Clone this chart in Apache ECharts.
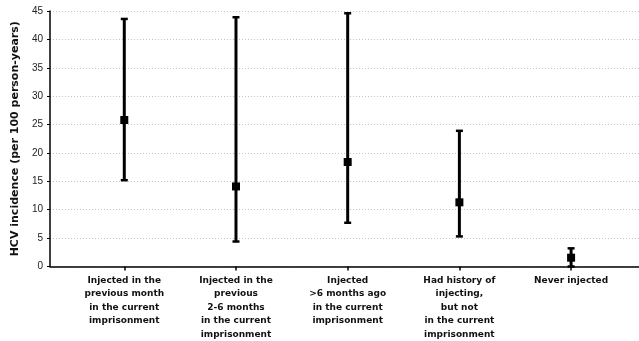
<!DOCTYPE html>
<html>
<head>
<meta charset="utf-8">
<script src="https://cdn.jsdelivr.net/npm/echarts@6/dist/echarts.min.js"></script>
<style>
  html, body { margin: 0; padding: 0; background: #fff; }
  #chart { width: 639px; height: 341px; }
</style>
</head>
<body>
<div id="chart"></div>
<script>
// Exposure groups (x axis)
const categories = [
  'Injected in the\nprevious month\nin the current\nimprisonment',
  'Injected in the\nprevious\n2-6 months\nin the current\nimprisonment',
  'Injected\n>6 months ago\nin the current\nimprisonment',
  'Had history of\ninjecting,\nbut not\nin the current\nimprisonment',
  'Never injected'
];
// HCV incidence per 100 person-years with 95% CI
const incidence = [25.8, 14.1, 18.4, 11.3, 1.55];
const ciLower = [15.2, 4.4, 7.7, 5.3, 0];
const ciUpper = [43.6, 43.9, 44.6, 23.9, 3.2];
// Y axis ticks
const yTicks = [0, 5, 10, 15, 20, 25, 30, 35, 40, 45];

const positions = categories.map((_, i) => i);

const chart = echarts.init(document.getElementById('chart'), null, { renderer: 'canvas' });

chart.setOption({
  animation: false,
  backgroundColor: '#ffffff',
  grid: { left: 50, right: 0, top: 11, bottom: 74.5, containLabel: false },
  xAxis: {
    type: 'value',
    min: -0.665,
    max: 4.608,
    splitLine: { show: false },
    axisLine: { show: true, onZero: false, lineStyle: { color: '#000', width: 1.5 } },
    axisTick: { show: true, customValues: positions, length: 4, lineStyle: { color: '#000', width: 1.5 } },
    axisLabel: {
      customValues: positions,
      formatter: v => categories[Math.round(v)],
      margin: 7,
      color: '#111',
      fontFamily: 'DejaVu Sans',
      fontWeight: 'bold',
      fontSize: 9,
      lineHeight: 13.5,
      verticalAlign: 'top'
    }
  },
  yAxis: {
    type: 'value',
    min: yTicks[0],
    max: yTicks[yTicks.length - 1],
    interval: 5,
    name: 'HCV incidence (per 100 person-years)',
    nameLocation: 'middle',
    nameGap: 26,
    nameTextStyle: {
      color: '#111',
      fontFamily: 'DejaVu Sans',
      fontWeight: 'bold',
      fontSize: 11
    },
    axisLine: { show: true, onZero: false, lineStyle: { color: '#000', width: 1.5 } },
    axisTick: { show: true, length: 3, lineStyle: { color: '#000', width: 1 } },
    axisLabel: {
      margin: 7,
      color: '#222',
      fontFamily: 'Liberation Sans',
      fontSize: 10
    },
    splitLine: {
      show: true,
      lineStyle: { color: '#c4c4c4', type: [1, 2], width: 1 }
    }
  },
  series: [
    {
      type: 'custom',
      name: '95% CI',
      data: positions.map(i => [i, ciLower[i], ciUpper[i]]),
      renderItem: function (params, api) {
        const x = api.value(0);
        const lo = api.coord([x, api.value(1)]);
        const hi = api.coord([x, api.value(2)]);
        const capHalf = 3.5;
        return {
          type: 'group',
          children: [
            { type: 'line', shape: { x1: lo[0], y1: lo[1], x2: hi[0], y2: hi[1] }, style: { stroke: '#000', lineWidth: 3 } },
            { type: 'line', shape: { x1: hi[0] - capHalf, y1: hi[1], x2: hi[0] + capHalf, y2: hi[1] }, style: { stroke: '#000', lineWidth: 2.5 } },
            { type: 'line', shape: { x1: lo[0] - capHalf, y1: lo[1], x2: lo[0] + capHalf, y2: lo[1] }, style: { stroke: '#000', lineWidth: 2.5 } }
          ]
        };
      },
      z: 2
    },
    {
      type: 'scatter',
      name: 'Incidence',
      data: positions.map(i => [i, incidence[i]]),
      symbol: 'rect',
      symbolSize: 8,
      itemStyle: { color: '#000', opacity: 1 },
      z: 3
    }
  ]
});
</script>
</body>
</html>
